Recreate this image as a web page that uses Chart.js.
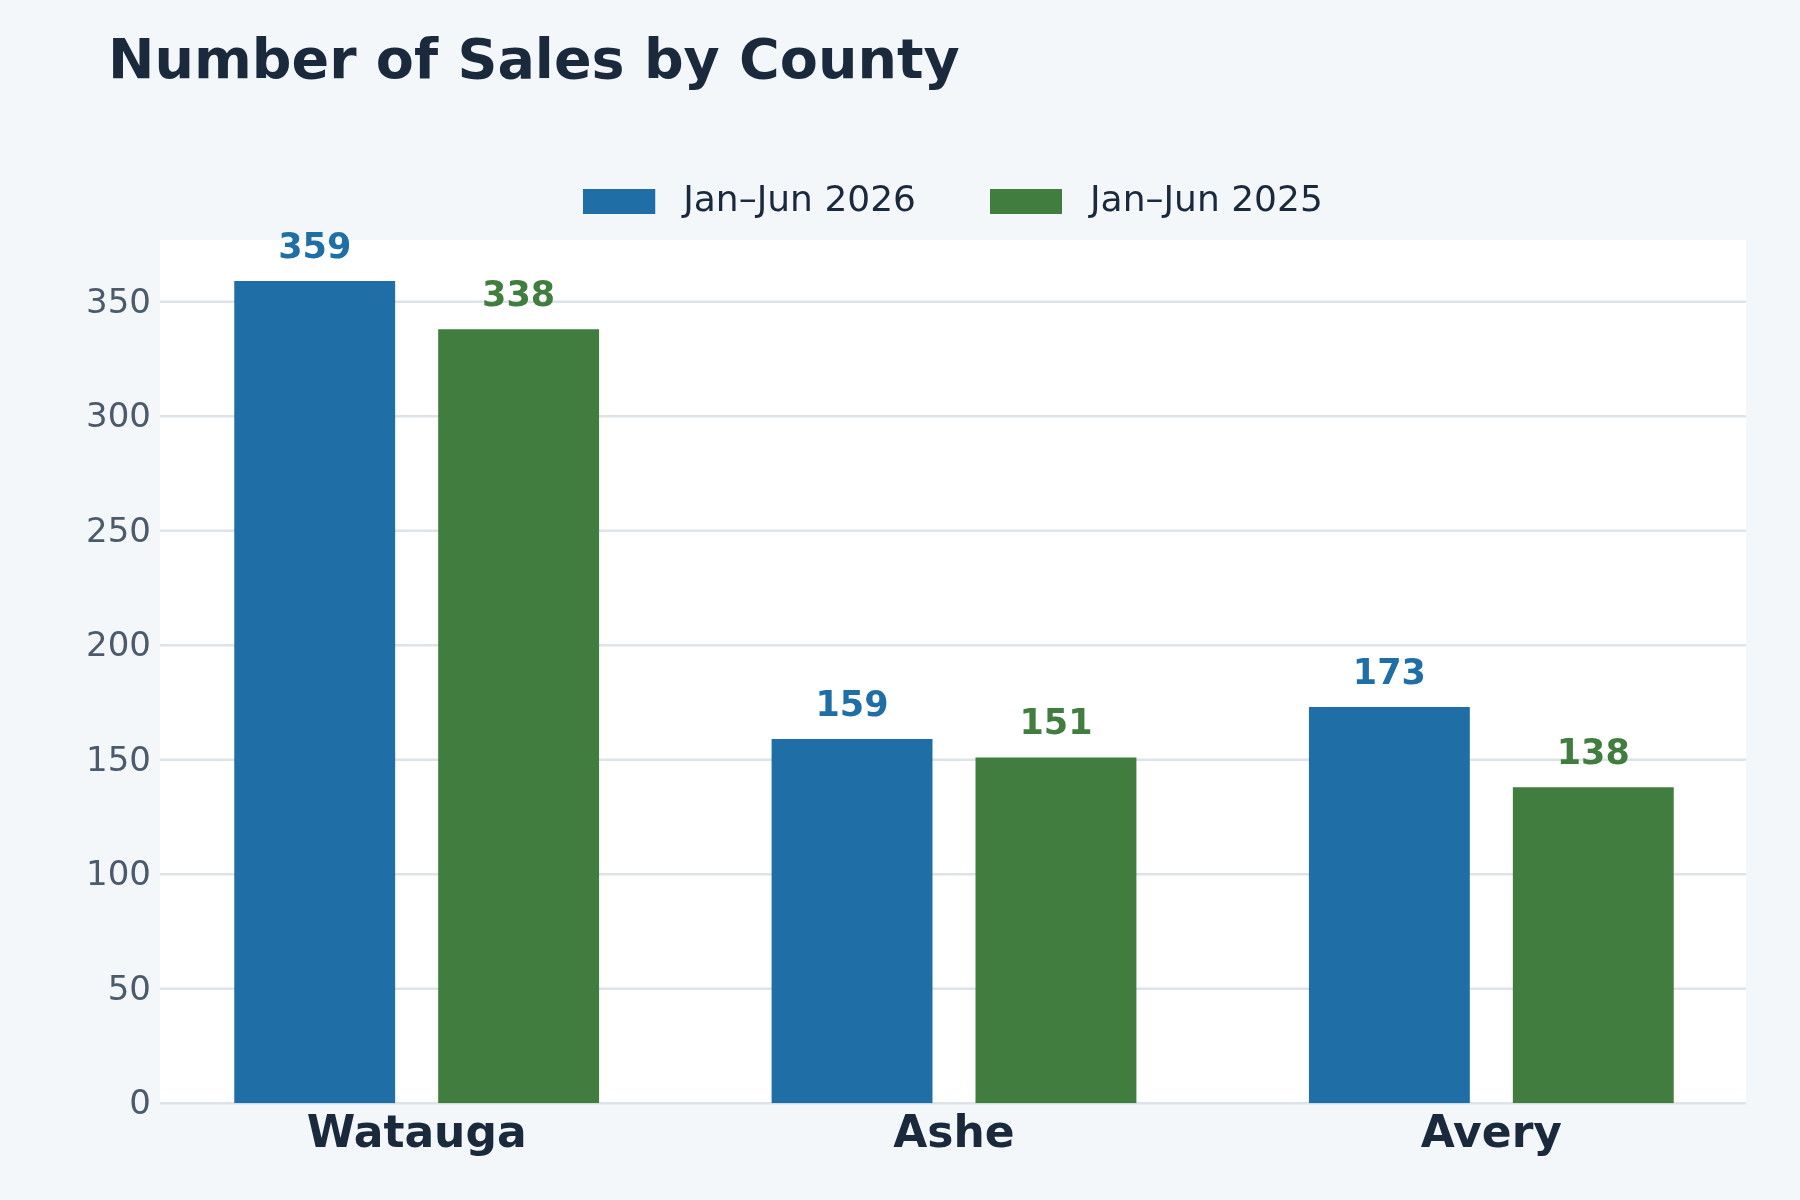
<!DOCTYPE html>
<html><head><meta charset="utf-8">
<script src="https://cdn.jsdelivr.net/npm/chart.js@4.4.1/dist/chart.umd.min.js"></script>
<style>html,body{margin:0;padding:0;background:#f4f7fa;} canvas{display:block;}</style>
</head><body>
<canvas id="c" width="1800" height="1200"></canvas>
<script>
// ---- data ----
const titleText = 'Number of Sales by County';
const categories = ['Watauga', 'Ashe', 'Avery'];
const seriesLabels = ['Jan–Jun 2026', 'Jan–Jun 2025'];
const sales2026 = [359, 159, 173];
const sales2025 = [338, 151, 138];
const yTickStep = 50;

// ---- style ----
const FONT = "'DejaVu Sans', sans-serif";
const seriesColors = ['#1f6ea5', '#407d3e'];
const darkText = '#1a2a3c';
const tickColor = '#4b5b6b';
const gridColor = '#dde3e8';

function legendSwatch(color) {
  const c = document.createElement('canvas');
  c.width = 84; c.height = 25;
  const g = c.getContext('2d');
  g.fillStyle = color;
  g.fillRect(0, 0, 72, 25);
  return c;
}
const swatches = seriesColors.map(legendSwatch);

const plotBackground = {
  id: 'plotBackground',
  beforeDatasetsDraw(chart) {
    const {ctx, chartArea} = chart;
    const y = chart.scales.y;
    const left = chartArea.left + 12, right = chartArea.right - 14;
    ctx.save();
    ctx.fillStyle = '#ffffff';
    ctx.fillRect(left, chartArea.top, right - left, chartArea.bottom - chartArea.top);
    ctx.strokeStyle = gridColor;
    ctx.lineWidth = 2.5;
    y.ticks.forEach(t => {
      const py = y.getPixelForValue(t.value);
      ctx.beginPath();
      ctx.moveTo(left, py);
      ctx.lineTo(right, py);
      ctx.stroke();
    });
    ctx.restore();
  }
};

const valueLabels = {
  id: 'valueLabels',
  afterDatasetsDraw(chart) {
    const {ctx} = chart;
    ctx.save();
    ctx.font = "bold 35px " + FONT;
    ctx.textAlign = 'center';
    ctx.textBaseline = 'alphabetic';
    chart.data.datasets.forEach((ds, di) => {
      const meta = chart.getDatasetMeta(di);
      ctx.fillStyle = seriesColors[di];
      meta.data.forEach((bar, i) => {
        ctx.fillText(String(ds.data[i]), bar.x, bar.y - 23);
      });
    });
    ctx.restore();
  }
};

const allValues = sales2026.concat(sales2025);

new Chart(document.getElementById('c'), {
  type: 'bar',
  data: {
    labels: categories,
    datasets: [
      { label: seriesLabels[0], data: sales2026, backgroundColor: seriesColors[0], borderWidth: 0,
        categoryPercentage: 0.759, barPercentage: 0.789 },
      { label: seriesLabels[1], data: sales2025, backgroundColor: seriesColors[1], borderWidth: 0,
        categoryPercentage: 0.759, barPercentage: 0.789 }
    ]
  },
  options: {
    responsive: false,
    animation: false,
    events: [],
    layout: { padding: { top: 0, left: 108, right: 40, bottom: 32 } },
    plugins: {
      title: {
        display: true, text: titleText, align: 'start', color: darkText,
        font: { family: FONT, size: 55.5, weight: 'bold', lineHeight: 1.2 },
        padding: { top: 30, bottom: 11.2 }
      },
      subtitle: {
        display: true, text: '', weight: 500, padding: 0,
        font: { family: FONT, size: 8.5, lineHeight: 1.2 }
      },
      legend: {
        display: true, position: 'top', align: 'center', fullSize: false,
        labels: {
          usePointStyle: true, pointStyleWidth: 80, boxHeight: 25,
          padding: 76, color: darkText,
          font: { family: FONT, size: 36 },
          generateLabels(chart) {
            const items = Chart.defaults.plugins.legend.labels.generateLabels(chart);
            items.forEach((it, i) => { it.pointStyle = swatches[i]; });
            return items;
          }
        }
      },
      tooltip: { enabled: false }
    },
    scales: {
      x: {
        grid: { display: false, drawTicks: false },
        border: { display: false },
        ticks: { color: darkText, padding: 6, maxRotation: 0, autoSkip: false,
                 font: { family: FONT, size: 44, weight: 'bold', lineHeight: 1.2 } }
      },
      y: {
        min: 0,
        max: Math.max(...allValues) * 1.05,
        grid: { display: false, drawTicks: false },
        border: { display: false },
        ticks: { stepSize: yTickStep, includeBounds: false, padding: -3, labelOffset: 2,
                 color: tickColor, font: { family: FONT, size: 34 } },
        afterFit(scale) {
          scale.width = 40;
          scale._computeLabelArea = function () { return undefined; };
        }
      }
    }
  },
  plugins: [plotBackground, valueLabels]
});
</script>
</body></html>
